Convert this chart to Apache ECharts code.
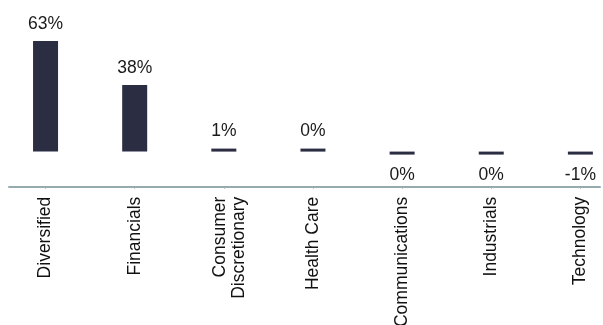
<!DOCTYPE html>
<html>
<head>
<meta charset="utf-8">
<script src="https://cdn.jsdelivr.net/npm/echarts@6/dist/echarts.min.js"></script>
<style>html,body{margin:0;padding:0;background:#fff}#c{width:603px;height:325px}</style>
</head>
<body>
<div id="c"></div>
<script>
const categories = ['Diversified', 'Financials', 'Consumer\nDiscretionary', 'Health Care', 'Communications', 'Industrials', 'Technology'];
const values = [63, 38, 1.0, 0.3, -0.2, -0.3, -0.7];

const FONT = "'Liberation Sans', Arial, sans-serif";
const FS = 17.5;
const chart = echarts.init(document.getElementById('c'), null, {renderer: 'canvas'});

const positions = categories.map((c, i) => i);
const barData = values.map((v, i) => ({
  value: [i, v],
  label: v >= 0 ? {position: 'top', distance: 8} : {position: 'bottom', distance: 12}
}));

chart.setOption({
  animation: false,
  backgroundColor: '#ffffff',
  grid: {left: 9, right: 3, top: 41, bottom: 138.3, containLabel: false, outerBoundsMode: 'none'},
  xAxis: {
    type: 'value', min: -0.41, max: 6.22,
    axisLine: {show: true, onZero: false, lineStyle: {color: '#97abae', width: 2}},
    axisTick: {show: true, customValues: positions, length: 2, lineStyle: {color: '#a3acae', width: 1}},
    splitLine: {show: false},
    axisLabel: {
      customValues: positions,
      rotate: 90, margin: 10,
      fontFamily: FONT, fontSize: FS, color: '#111', lineHeight: 19,
      formatter: v => {
        const t = categories[v];
        if (t.indexOf('\n') < 0) return t;
        return '{s| }\n' + t.split('\n').map(x => '{a|' + x + '}').join('\n');
      },
      rich: {
        s: {fontSize: 1, lineHeight: 11},
        a: {fontFamily: FONT, fontSize: FS, color: '#111', lineHeight: 19}
      }
    }
  },
  yAxis: {type: 'value', min: -20, max: 63, show: false, splitLine: {show: false}},
  series: [{
    type: 'bar',
    data: barData, barWidth: 25, barMinHeight: 3,
    itemStyle: {color: '#2b2d42'},
    label: {
      show: true, fontFamily: FONT, fontSize: FS, color: '#1a1a1a',
      formatter: p => `${Math.round(p.value[1])}%`
    }
  }]
});
</script>
</body>
</html>
